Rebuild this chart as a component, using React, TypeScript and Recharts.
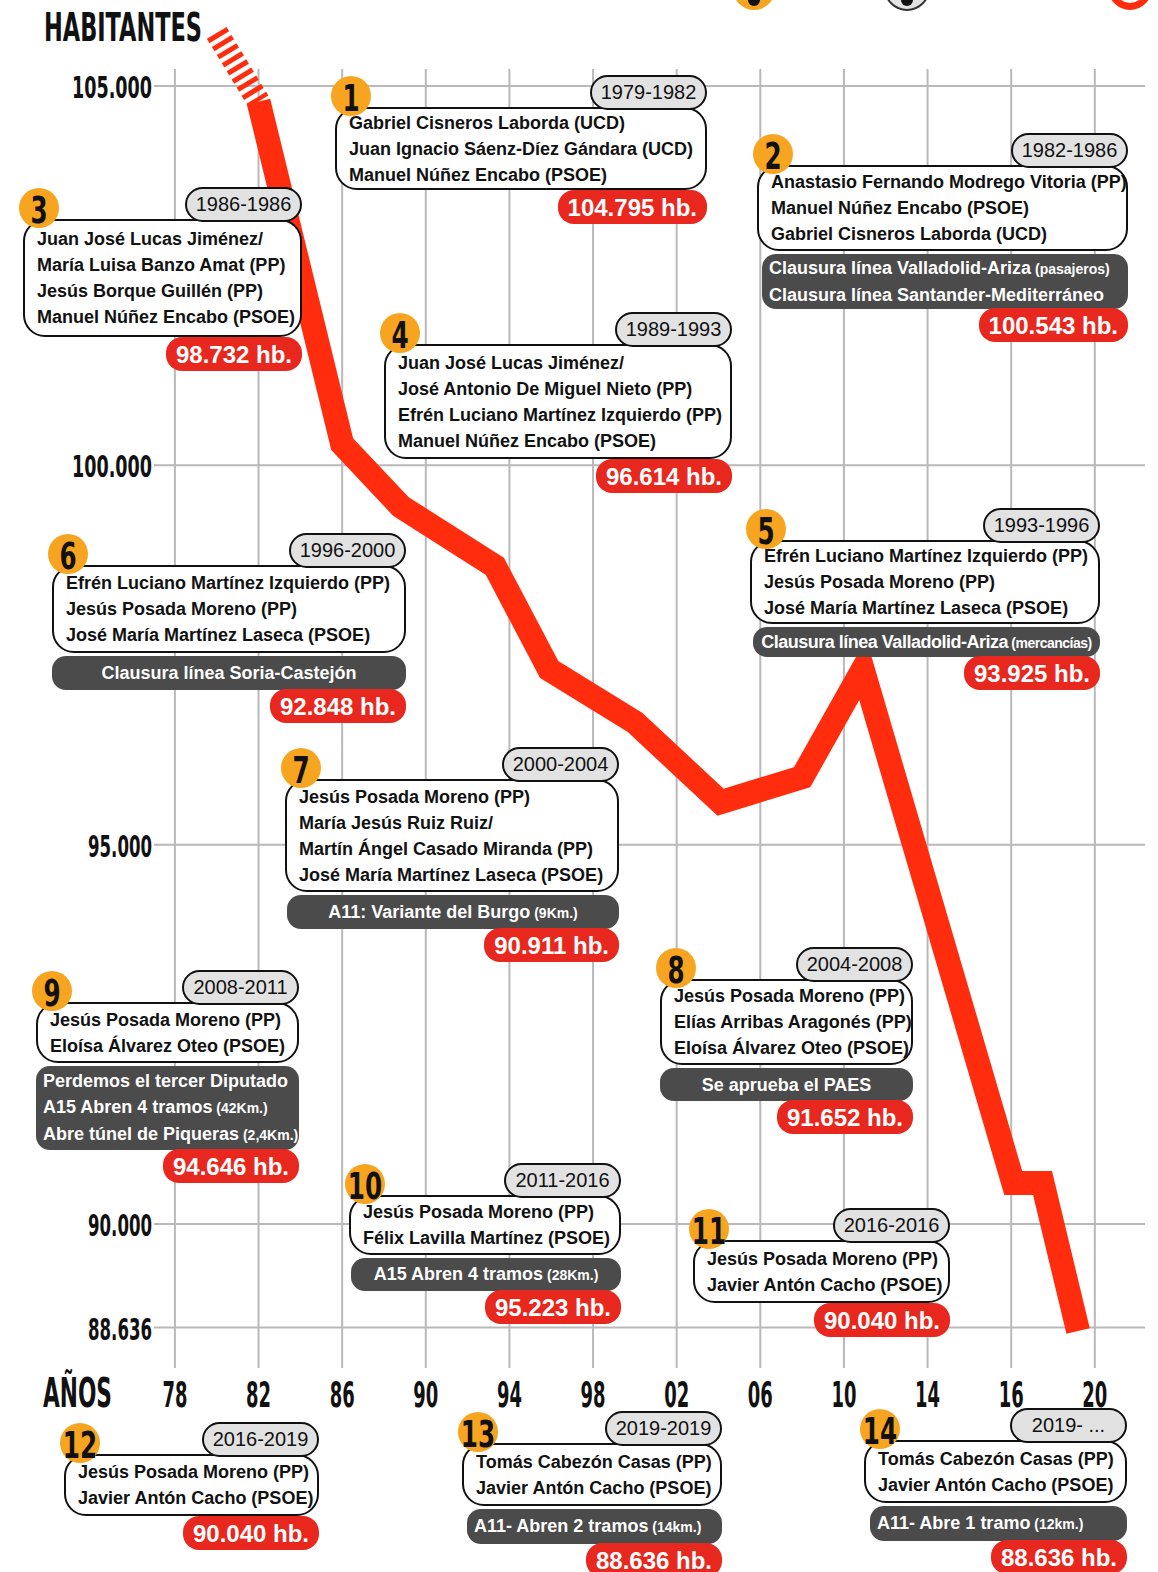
import React from 'react'
import { LineChart, Line, XAxis, YAxis, ReferenceLine } from 'recharts'

// --- datos ---
const lineYears = [1982, 1986, 1988.8, 1993.3, 1995.9, 2000, 2004.1, 2008, 2010.9, 2018.1, 2019.5, 2021.2]
const lineValues = [104795, 100280, 99460, 98670, 97310, 96614, 95560, 95890, 97310, 90540, 90540, 88590]
// tramo rayado anterior a 1982
const hatchYears = [1980, 1982]
const hatchValues = [105700, 104795]

const xTicks = [1978, 1982, 1986, 1990, 1994, 1998, 2002, 2006, 2010, 2014, 2018, 2022]
const xTickLabels = ['78', '82', '86', '90', '94', '98', '02', '06', '10', '14', '16', '20']
const yTicks = [88636, 90000, 95000, 100000, 105000]

const periods = [
  '1979-1982', '1982-1986', '1986-1986', '1989-1993', '1993-1996', '1996-2000', '2000-2004',
  '2004-2008', '2008-2011', '2011-2016', '2016-2016', '2016-2019', '2019-2019', '2019- ...',
]

const deputies = [
  ['Gabriel Cisneros Laborda (UCD)', 'Juan Ignacio Sáenz-Díez Gándara (UCD)', 'Manuel Núñez Encabo (PSOE)'],
  ['Anastasio Fernando Modrego Vitoria (PP)', 'Manuel Núñez Encabo (PSOE)', 'Gabriel Cisneros Laborda (UCD)'],
  ['Juan José Lucas Jiménez/', 'María Luisa Banzo Amat (PP)', 'Jesús Borque Guillén (PP)', 'Manuel Núñez Encabo (PSOE)'],
  ['Juan José Lucas Jiménez/', 'José Antonio De Miguel Nieto (PP)', 'Efrén Luciano Martínez Izquierdo (PP)', 'Manuel Núñez Encabo (PSOE)'],
  ['Efrén Luciano Martínez Izquierdo (PP)', 'Jesús Posada Moreno (PP)', 'José María Martínez Laseca (PSOE)'],
  ['Efrén Luciano Martínez Izquierdo (PP)', 'Jesús Posada Moreno (PP)', 'José María Martínez Laseca (PSOE)'],
  ['Jesús Posada Moreno (PP)', 'María Jesús Ruiz Ruiz/', 'Martín Ángel Casado Miranda (PP)', 'José María Martínez Laseca (PSOE)'],
  ['Jesús Posada Moreno (PP)', 'Elías Arribas Aragonés (PP)', 'Eloísa Álvarez Oteo (PSOE)'],
  ['Jesús Posada Moreno (PP)', 'Eloísa Álvarez Oteo (PSOE)'],
  ['Jesús Posada Moreno (PP)', 'Félix Lavilla Martínez (PSOE)'],
  ['Jesús Posada Moreno (PP)', 'Javier Antón Cacho (PSOE)'],
  ['Jesús Posada Moreno (PP)', 'Javier Antón Cacho (PSOE)'],
  ['Tomás Cabezón Casas (PP)', 'Javier Antón Cacho (PSOE)'],
  ['Tomás Cabezón Casas (PP)', 'Javier Antón Cacho (PSOE)'],
]

// [texto, nota pequeña]
const milestones: string[][][] = [
  [],
  [['Clausura línea Valladolid-Ariza', '(pasajeros)'], ['Clausura línea Santander-Mediterráneo']],
  [],
  [],
  [['Clausura línea Valladolid-Ariza', '(mercancías)']],
  [['Clausura línea Soria-Castejón']],
  [['A11: Variante del Burgo', '(9Km.)']],
  [['Se aprueba el PAES']],
  [['Perdemos el tercer Diputado'], ['A15 Abren 4 tramos', '(42Km.)'], ['Abre túnel de Piqueras', '(2,4Km.)']],
  [['A15 Abren 4 tramos', '(28Km.)']],
  [],
  [],
  [['A11- Abren 2 tramos', '(14km.)']],
  [['A11- Abre 1 tramo', '(12km.)']],
]

const populations = [104795, 100543, 98732, 96614, 93925, 92848, 90911, 91652, 94646, 95223, 90040, 90040, 88636, 88636]

// --- maquetación ---
type CardLayout = { x: number; y: number; w: number; h: number; noteH?: number; inset?: number; align?: 'left' | 'center'; tight?: boolean }

const cardLayout: CardLayout[] = [
  { x: 335, y: 107, w: 372, h: 83 },
  { x: 757, y: 165, w: 371, h: 86, noteH: 55, inset: 5, align: 'left' },
  { x: 23, y: 219, w: 279, h: 118 },
  { x: 384, y: 344, w: 348, h: 115 },
  { x: 750, y: 540, w: 350, h: 84, noteH: 30, inset: 3, tight: true },
  { x: 52, y: 565, w: 354, h: 88, noteH: 34 },
  { x: 285, y: 779, w: 334, h: 113, noteH: 34, inset: 2 },
  { x: 660, y: 979, w: 253, h: 86, noteH: 33 },
  { x: 36, y: 1002, w: 263, h: 61, noteH: 84, align: 'left' },
  { x: 349, y: 1195, w: 272, h: 60, noteH: 33, inset: 2 },
  { x: 693, y: 1240, w: 257, h: 63 },
  { x: 64, y: 1454, w: 255, h: 62 },
  { x: 462, y: 1443, w: 260, h: 63, noteH: 35, inset: 5, align: 'left' },
  { x: 864, y: 1440, w: 263, h: 63, noteH: 35, inset: 6, align: 'left' },
]

const W = 1158
const H = 1572
const Y_MIN = 88103
const Y_MAX = 105804
const GRID_TOP = 105224
const X_MIN = 1977
const X_MAX = 2024.4

const LINE_RED = '#ff2d0d'
const PILL_RED = '#e8281f'
const ORANGE = '#f7a521'
const DARK = '#4b4b4b'
const GRID = '#b9b9b9'
const SANS = "'Liberation Sans', Arial, sans-serif"
const COND = "'Liberation Sans Narrow', 'DejaVu Sans Condensed', 'Liberation Sans', sans-serif"

const fmt = (v: number) => String(v).replace(/\B(?=(\d{3})+(?!\d))/g, '.')

const mainData = lineYears.map((year, i) => ({ year, value: lineValues[i] }))
const hatchData = hatchYears.map((year, i) => ({ year, value: hatchValues[i] }))

const renderXTick = (props: any) => {
  const { x, y, payload } = props
  const label = xTickLabels[xTicks.indexOf(payload.value)]
  return (
    <text x={x} y={y + 39} textAnchor="middle" fontFamily={COND} fontWeight="bold" fontSize={35}
      textLength={25} lengthAdjust="spacingAndGlyphs" fill="#111">
      {label}
    </text>
  )
}

const renderYTick = (props: any) => {
  const { x, y, payload } = props
  const label = fmt(payload.value)
  return (
    <text x={x} y={y + 12} textAnchor="end" fontFamily={COND} fontWeight="bold" fontSize={31}
      textLength={label.length > 6 ? 80 : 64} lengthAdjust="spacingAndGlyphs" fill="#111">
      {label}
    </text>
  )
}

function Card({ index }: { index: number }) {
  const l = cardLayout[index]
  const notes = milestones[index]
  const noteH = l.noteH ?? 0
  const inset = l.inset ?? 0
  const pillTop = noteH ? l.h + 3 + noteH - 1 : l.h
  return (
    <div style={{ position: 'absolute', left: l.x, top: l.y, width: l.w }}>
      {/* recuadro de diputados */}
      <div style={{
        position: 'absolute', left: 0, top: 0, width: l.w, height: l.h, boxSizing: 'border-box',
        border: '2px solid #111', borderRadius: 22, background: '#fff', paddingLeft: 12,
        display: 'flex', flexDirection: 'column', justifyContent: 'center',
      }}>
        {deputies[index].map((d, i) => (
          <div key={i} style={{ fontFamily: SANS, fontWeight: 'bold', fontSize: 18, lineHeight: '26px', color: '#111', whiteSpace: 'nowrap' }}>{d}</div>
        ))}
      </div>
      {/* años */}
      <div style={{
        position: 'absolute', right: 0, top: -32, width: 117, height: 35, boxSizing: 'border-box',
        border: '2px solid #111', borderRadius: 18, background: '#e2e2e2', textAlign: 'center',
        fontFamily: SANS, fontSize: 20, lineHeight: '31px', color: '#111', whiteSpace: 'nowrap',
      }}>{periods[index]}</div>
      {/* número */}
      <div style={{
        position: 'absolute', left: -4, top: -31, width: 40, height: 40, borderRadius: '50%', background: ORANGE,
      }}>
        <div style={{
          position: 'absolute', left: -10, width: 60, top: 3, textAlign: 'center', fontFamily: COND,
          fontWeight: 'bold', fontSize: 37, lineHeight: '40px', color: '#111', transform: 'scaleX(0.74)',
        }}>{index + 1}</div>
      </div>
      {/* hitos */}
      {noteH > 0 && (
        <div style={{
          position: 'absolute', left: inset, top: l.h + 3, width: l.w - inset, height: noteH, boxSizing: 'border-box',
          background: DARK, borderRadius: 14, color: '#fff', display: 'flex', flexDirection: 'column',
          justifyContent: 'center', alignItems: l.align === 'left' ? 'flex-start' : 'center',
          paddingLeft: l.align === 'left' ? 7 : 0, letterSpacing: l.tight ? -0.5 : 0,
        }}>
          {notes.map((n, i) => (
            <div key={i} style={{ fontFamily: SANS, fontWeight: 'bold', fontSize: 18, lineHeight: '26px', whiteSpace: 'nowrap' }}>
              {n[0]}{n[1] && <span style={{ fontSize: 14 }}> {n[1]}</span>}
            </div>
          ))}
        </div>
      )}
      {/* habitantes */}
      <div style={{
        position: 'absolute', right: 0, top: pillTop, height: 34, padding: '0 10px', borderRadius: 16,
        background: PILL_RED, color: '#fff', fontFamily: SANS, fontWeight: 'bold', fontSize: 24,
        lineHeight: '35px', whiteSpace: 'nowrap',
      }}>{fmt(populations[index])} hb.</div>
    </div>
  )
}

export default function App() {
  return (
    <div style={{ position: 'relative', width: W, height: H, overflow: 'hidden', background: '#fff' }}>
      <style>{'body{margin:0}'}</style>
      <div style={{ position: 'absolute', left: 0, top: 0 }}>
        <LineChart width={W} height={H} margin={{ top: 25, right: 13, bottom: 0, left: 0 }}>
          {yTicks.map(t => (
            <ReferenceLine key={'h' + t} y={t} stroke={GRID} strokeWidth={2} />
          ))}
          {xTicks.map(t => (
            <ReferenceLine key={'v' + t} segment={[{ x: t, y: Y_MIN }, { x: t, y: GRID_TOP }]} stroke={GRID} strokeWidth={2} />
          ))}
          <XAxis type="number" dataKey="year" domain={[X_MIN, X_MAX]} ticks={xTicks} interval={0} height={204}
            tickSize={0} tickMargin={0} axisLine={false} tickLine={false} tick={renderXTick} />
          <YAxis type="number" dataKey="value" domain={[Y_MIN, Y_MAX]} ticks={yTicks} interval={0} width={154}
            tickSize={0} tickMargin={2} axisLine={false} tickLine={false} tick={renderYTick} />
          <Line data={hatchData} dataKey="value" stroke={LINE_RED} strokeWidth={23} strokeDasharray="5 4.5"
            dot={false} activeDot={false} isAnimationActive={false} />
          <Line data={mainData} dataKey="value" stroke={LINE_RED} strokeWidth={24} strokeLinejoin="miter"
            dot={false} activeDot={false} isAnimationActive={false} />
        </LineChart>
      </div>

      {/* títulos */}
      <svg width={W} height={H} style={{ position: 'absolute', left: 0, top: 0, pointerEvents: 'none' }}>
        <text x={44} y={41} fontFamily={COND} fontWeight="bold" fontSize={39} textLength={158} lengthAdjust="spacingAndGlyphs" fill="#111">HABITANTES</text>
        <text x={43} y={1407} fontFamily={COND} fontWeight="bold" fontSize={41} textLength={69} lengthAdjust="spacingAndGlyphs" fill="#111">AÑOS</text>
      </svg>

      {/* leyenda cortada arriba */}
      <div style={{ position: 'absolute', left: 733, top: -32, width: 42, height: 42, borderRadius: '50%', background: ORANGE }}>
        <div style={{ position: 'absolute', left: 15, top: 26, width: 12, height: 12, borderRadius: '50%', background: '#111' }} />
      </div>
      <div style={{ position: 'absolute', left: 884, top: -35, width: 46, height: 46, boxSizing: 'border-box', borderRadius: '50%', background: '#e2e2e2', border: '2px solid #333' }}>
        <div style={{ position: 'absolute', left: 15, top: 27, width: 12, height: 12, borderRadius: '50%', background: '#111' }} />
      </div>
      <div style={{ position: 'absolute', left: 1108, top: -34, width: 44, height: 44, boxSizing: 'border-box', borderRadius: '50%', border: '7px solid ' + LINE_RED }} />

      {cardLayout.map((_, i) => <Card key={i} index={i} />)}
    </div>
  )
}
